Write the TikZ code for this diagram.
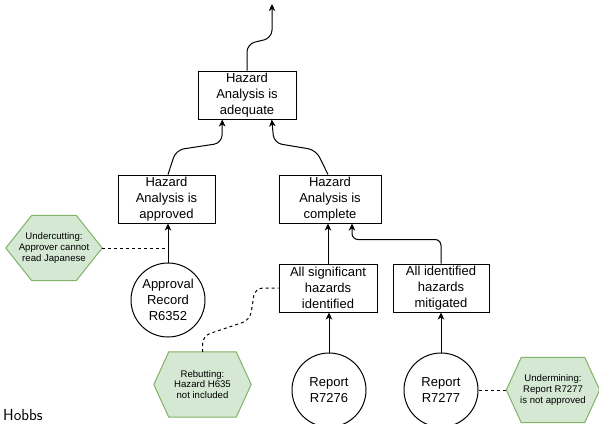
\documentclass[tikz,border=0pt]{standalone}
\usepackage{fontspec}
\setmainfont{Liberation Sans}
\usetikzlibrary{arrows.meta,backgrounds,calc}
\definecolor{hexfill}{HTML}{D5E8D4}
\definecolor{hexdraw}{HTML}{82B366}
\newcommand\hexat[2]{\draw[hexdraw,fill=hexfill,line width=1pt] (#1.west) -- ([xshift=#2]#1.north west) -- ([xshift=-#2]#1.north east) -- (#1.east) -- ([xshift=-#2]#1.south east) -- ([xshift=#2]#1.south west) -- cycle;}
\begin{document}
\begin{tikzpicture}[x=1pt,y=-1pt,
  claim/.style={draw,line width=1pt,inner sep=0pt,minimum height=48pt,align=center,font=\fontsize{13}{15.8}\selectfont},
  evid/.style={circle,draw,line width=1pt,minimum size=74pt,inner sep=0pt,align=center,font=\fontsize{13}{15.8}\selectfont},
  hexlabel/.style={inner sep=0pt,align=center,font=\fontsize{9.6}{10.6}\selectfont},
  arr/.style={-{Stealth[length=7pt,width=6.5pt,inset=2pt]},line width=1pt},
  attack/.style={dash pattern=on 3pt off 3pt,line width=1pt}]
\useasboundingbox (0,0) rectangle (599,423);

\node[claim,minimum width=98pt] (top) at (247,95) {Hazard\\Analysis is\\adequate};
\node[claim,minimum width=97pt] (appr) at (166.5,199) {Hazard\\Analysis is\\approved};
\node[claim,minimum width=102pt] (comp) at (330,199) {Hazard\\Analysis is\\complete};
\node[claim,minimum width=98pt] (sig) at (328,288) {All significant\\hazards\\identified};
\node[claim,minimum width=96pt] (mit) at (441,288) {All identified\\hazards\\mitigated};

\node[evid] (c1) at (168,300) {Approval\\Record\\R6352};
\node[evid] (c2) at (329,390) {Report\\R7276};
\node[evid] (c3) at (441,390) {Report\\R7277};

\node[hexlabel,minimum width=96pt,minimum height=65pt] (uc) at (54,248) {Undercutting:\\Approver cannot\\read Japanese};
\node[hexlabel,minimum width=97pt,minimum height=65pt] (rb) at (202.5,384.5) {Rebutting:\\Hazard H635\\not included};
\node[hexlabel,minimum width=93pt,minimum height=65pt] (um) at (553,390) {Undermining:\\Report R7277\\is not approved};

\begin{scope}[on background layer]
\hexat{uc}{26pt}
\hexat{rb}{15pt}
\hexat{um}{15pt}
\end{scope}

\node[anchor=base west,font=\sffamily\fontsize{16}{19}\selectfont,inner sep=0pt] (hobbs) at (3,420) {Hobbs};

\coordinate (topend) at (272,4);
\draw[arr,rounded corners=8pt] (top.north) -- (247,44) -- (272,38) -- (topend);
\draw[arr,rounded corners=8pt] (appr.north -| 168,0) -- (176,150) -- (222,143) -- ($(top.south west)!0.25!(top.south east)$);
\draw[arr,rounded corners=8pt] (comp.north -| 328,0) -- (316,150) -- (274,143) -- ($(top.south west)!0.75!(top.south east)$);
\draw[arr] (c1.north) -- (c1.north |- appr.south);
\draw[arr] (sig.north) -- (sig.north |- comp.south);
\draw[arr,rounded corners=6pt] (mit.north) -- ++(0,-24) -| ($(comp.south)+(22,0)$);
\draw[arr] (c2.north) -- (c2.north |- sig.south);
\draw[arr] (c3.north) -- (c3.north |- mit.south);

\draw[attack] (uc.east) -- (uc.east -| c1.north);
\draw[attack,rounded corners=8pt] (rb.north) -- (202.5,336) -- (250,320) -- (255,288) -- (sig.west);
\draw[attack] (c3.east) -- (um.west);
\end{tikzpicture}
\end{document}
